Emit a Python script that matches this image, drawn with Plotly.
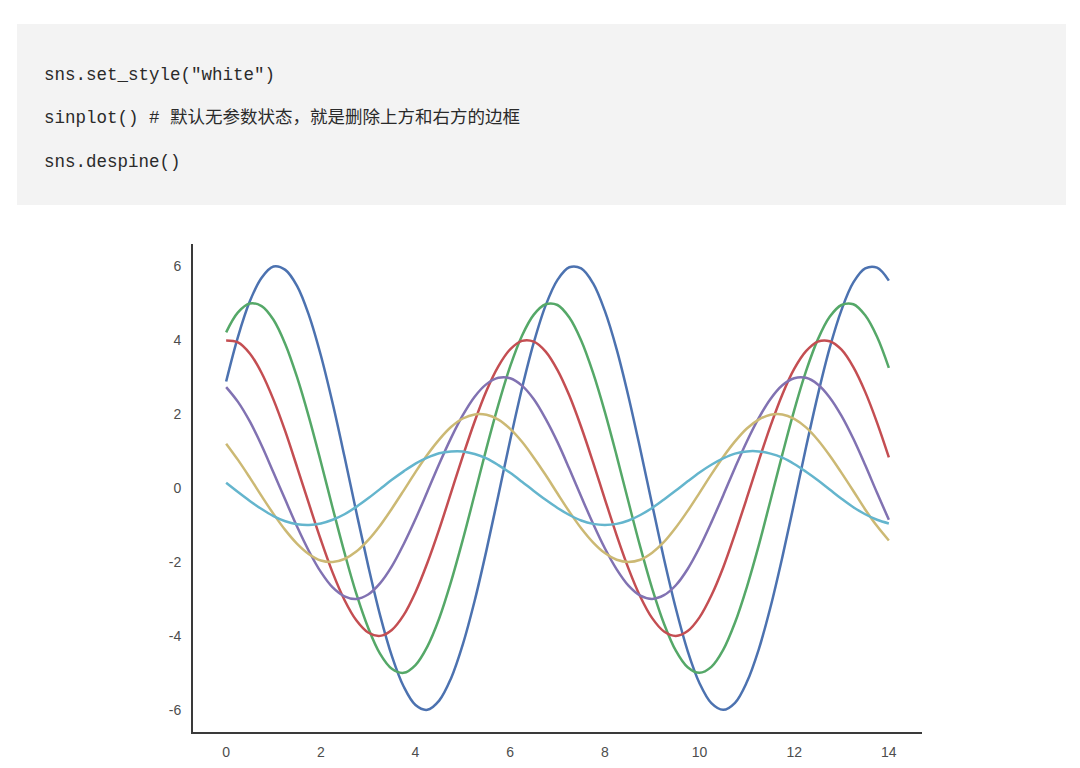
import plotly.graph_objects as go

# --- dados (x de 0 a 14, passo 0.25) ---
x_vals = [i * 0.25 for i in range(57)]

serie_azul = [2.88, 4.09, 5.05, 5.69, 5.99, 5.90, 5.46, 4.67, 3.59, 2.29,
              0.85, -0.65, -2.10, -3.43, -4.54, -5.37, -5.87, -6.00, -5.75, -5.15,
              -4.23, -3.05, -1.68, -0.20, 1.29, 2.70, 3.94, 4.94, 5.63, 5.97,
              5.94, 5.54, 4.79, 3.75, 2.47, 1.04, -0.45, -1.92, -3.26, -4.41,
              -5.28, -5.82, -6.00, -5.81, -5.25, -4.37, -3.22, -1.87, -0.40, 1.10,
              2.52, 3.79, 4.82, 5.56, 5.94, 5.96, 5.61]
serie_verde = [4.21, 4.75, 4.99, 4.92, 4.55, 3.89, 2.99, 1.91, 0.71, -0.54,
               -1.75, -2.86, -3.78, -4.48, -4.89, -5.00, -4.79, -4.29, -3.53, -2.54,
               -1.40, -0.17, 1.08, 2.25, 3.29, 4.12, 4.69, 4.97, 4.95, 4.61,
               3.99, 3.12, 2.06, 0.87, -0.38, -1.60, -2.72, -3.67, -4.40, -4.85,
               -5.00, -4.84, -4.38, -3.64, -2.68, -1.56, -0.33, 0.91, 2.10, 3.16,
               4.02, 4.63, 4.95, 4.97, 4.67, 4.09, 3.25]
serie_vermelha = [3.99, 3.94, 3.64, 3.11, 2.39, 1.53, 0.56, -0.43, -1.40, -2.29,
                  -3.03, -3.58, -3.91, -4.00, -3.84, -3.44, -2.82, -2.03, -1.12, -0.13,
                  0.86, 1.80, 2.63, 3.29, 3.75, 3.98, 3.96, 3.69, 3.19, 2.50,
                  1.65, 0.70, -0.30, -1.28, -2.18, -2.94, -3.52, -3.88, -4.00, -3.87,
                  -3.50, -2.91, -2.15, -1.24, -0.27, 0.73, 1.68, 2.53, 3.22, 3.70,
                  3.96, 3.97, 3.74, 3.27, 2.60, 1.77, 0.83]
serie_roxa = [2.73, 2.33, 1.80, 1.15, 0.42, -0.32, -1.05, -1.71, -2.27, -2.69,
              -2.93, -3.00, -2.88, -2.58, -2.12, -1.52, -0.84, -0.10, 0.65, 1.35,
              1.97, 2.47, 2.81, 2.98, 2.97, 2.77, 2.40, 1.87, 1.24, 0.52,
              -0.23, -0.96, -1.63, -2.20, -2.64, -2.91, -3.00, -2.90, -2.63, -2.19,
              -1.61, -0.93, -0.20, 0.55, 1.26, 1.89, 2.41, 2.78, 2.97, 2.98,
              2.80, 2.45, 1.95, 1.33, 0.62, -0.13, -0.86]
serie_amarela = [1.20, 0.76, 0.28, -0.22, -0.70, -1.14, -1.51, -1.79, -1.96, -2.00,
                 -1.92, -1.72, -1.41, -1.02, -0.56, -0.07, 0.43, 0.90, 1.31, 1.65,
                 1.88, 1.99, 1.98, 1.85, 1.60, 1.25, 0.82, 0.35, -0.15, -0.64,
                 -1.09, -1.47, -1.76, -1.94, -2.00, -1.94, -1.75, -1.46, -1.07, -0.62,
                 -0.13, 0.37, 0.84, 1.26, 1.61, 1.85, 1.98, 1.99, 1.87, 1.64,
                 1.30, 0.88, 0.41, -0.08, -0.58, -1.03, -1.42]
serie_ciano = [0.14, -0.11, -0.35, -0.57, -0.76, -0.90, -0.98, -1.00, -0.96, -0.86,
               -0.71, -0.51, -0.28, -0.03, 0.22, 0.45, 0.66, 0.82, 0.94, 0.99,
               0.99, 0.92, 0.80, 0.62, 0.41, 0.17, -0.08, -0.32, -0.54, -0.73,
               -0.88, -0.97, -1.00, -0.97, -0.88, -0.73, -0.54, -0.31, -0.07, 0.18,
               0.42, 0.63, 0.80, 0.93, 0.99, 0.99, 0.93, 0.82, 0.65, 0.44,
               0.21, -0.04, -0.29, -0.52, -0.71, -0.86, -0.96]

series = [serie_azul, serie_verde, serie_vermelha, serie_roxa, serie_amarela, serie_ciano]
cores = ["#4C72B0", "#55A868", "#C44E52", "#8172B2", "#CCB974", "#64B5CD"]

ticks_x = [0, 2, 4, 6, 8, 10, 12, 14]
rotulos_x = ["0", "2", "4", "6", "8", "10", "12", "14"]
ticks_y = [-6, -4, -2, 0, 2, 4, 6]
rotulos_y = ["-6", "-4", "-2", "0", "2", "4", "6"]

linhas_codigo = [
    'sns.set_style("white")',
    "sinplot() # 默认无参数状态，就是删除上方和右方的边框",
    "sns.despine()",
]

for s in series:
    assert len(s) == len(x_vals)

W, H = 1080, 768
OFF = 8  # margem padrão do <body> na página


def px_x(p):
    return (p - OFF) / W


def px_y(p):
    return 1 - (p - OFF) / H


fig = go.Figure()
for ys, cor in zip(series, cores):
    fig.add_trace(go.Scatter(
        x=x_vals, y=ys, mode="lines",
        line=dict(color=cor, width=2.5, shape="spline", smoothing=1.0),
        showlegend=False, hoverinfo="skip",
    ))

# bloco de código cinza
fig.add_shape(type="rect", xref="paper", yref="paper",
              x0=px_x(17), x1=px_x(1066), y0=px_y(205), y1=px_y(24),
              fillcolor="#f3f3f3", line=dict(width=0), layer="below")

for texto, py in zip(linhas_codigo, [75, 118, 162]):
    fig.add_annotation(
        text=texto, xref="paper", yref="paper",
        x=px_x(42), y=px_y(py), xanchor="left", yanchor="middle",
        showarrow=False,
        font=dict(family="Liberation Mono, Noto Sans CJK SC, monospace", size=17.5, color="#2a2a2a"),
    )

fig.update_layout(
    width=W, height=H,
    margin=dict(l=0, r=0, t=0, b=0),
    paper_bgcolor="white", plot_bgcolor="white",
    font=dict(family="Liberation Sans, Arial, sans-serif", size=14, color="#4d4d4d"),
    xaxis=dict(
        domain=[px_x(193), px_x(922)], range=[-0.7, 14.7],
        tickvals=ticks_x, ticktext=rotulos_x, showgrid=False, zeroline=False,
        showline=True, linecolor="#3a3a3a", linewidth=2,
        ticks="outside", ticklen=6, tickcolor="rgba(0,0,0,0)",
        tickfont=dict(size=14, color="#4d4d4d"),
    ),
    yaxis=dict(
        domain=[px_y(732), px_y(244)], range=[-6.6, 6.6],
        tickvals=ticks_y, ticktext=rotulos_y, showgrid=False, zeroline=False,
        showline=True, linecolor="#3a3a3a", linewidth=2,
        ticks="outside", ticklen=7, tickcolor="rgba(0,0,0,0)",
        tickfont=dict(size=14, color="#4d4d4d"),
    ),
)

fig.write_html("out.html")
